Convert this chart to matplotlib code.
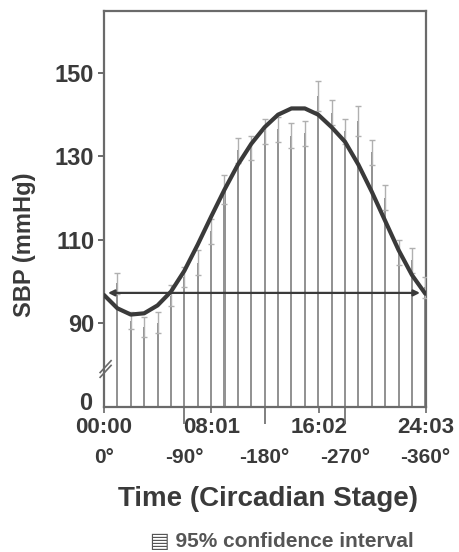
import matplotlib
matplotlib.use('Agg')
import matplotlib.pyplot as plt

# ---- data ----
hours = list(range(1, 25))
sbp = [99.5, 90.5, 89.0, 90.0, 96.5, 101.0, 104.5, 112.0, 122.0, 131.5, 132.0, 136.0,
       136.5, 135.0, 135.5, 144.5, 140.5, 136.0, 138.5, 131.0, 120.0, 107.0, 105.0, 98.5]
ci = [2.5, 2.0, 2.5, 2.5, 2.5, 2.5, 3.0, 3.0, 3.5, 3.0, 3.0, 3.0,
      3.0, 3.0, 3.0, 3.5, 3.0, 3.0, 3.5, 3.0, 3.0, 3.0, 3.0, 2.5]
fit_hours = list(range(0, 25))
fit_sbp = [96.7, 93.5, 92.0, 92.3, 94.2, 97.5, 102.5, 108.8, 115.5, 122.0, 128.0, 133.0,
           137.0, 140.0, 141.5, 141.5, 140.0, 137.0, 133.5, 128.0, 121.5, 114.5, 107.5,
           101.5, 97.0]
mesor = 97.2
y_ticks = [90, 110, 130, 150]
time_labels = ['00:00', '08:01', '16:02', '24:03']
time_pos = [0, 8.017, 16.033, 24.05]
stage_labels = ['0°', '-90°', '-180°', '-270°', '-360°']
stage_pos = [0, 6, 12, 18, 24]

FONT = ['Liberation Sans', 'DejaVu Sans']
plt.rcParams['font.family'] = FONT
INK = '#3a3a3a'

fig = plt.figure(figsize=(4.6, 5.52), dpi=100)
ax = fig.add_axes([104/460, 1-407/552, 322/460, 396/552])

ymin, ymax = 69.8, 164.9
ax.bar(hours, sbp, width=0.15, color='#939393', zorder=2)
ax.errorbar(hours, sbp, yerr=ci, fmt='none', ecolor='#b0b0b0', elinewidth=1.0,
            capsize=2.5, capthick=1.0, zorder=3)
ax.plot(fit_hours, fit_sbp, color=INK, lw=3, zorder=5, solid_capstyle='round')
ax.annotate('', xy=(0.3, mesor), xytext=(23.6, mesor),
            arrowprops=dict(arrowstyle='<|-|>', color=INK, lw=1.6,
                            mutation_scale=9, shrinkA=0, shrinkB=0), zorder=4)

ax.set_xlim(0, 24.05)
ax.set_ylim(ymin, ymax)

for s in ax.spines.values():
    s.set_color('#6a6a6a')
    s.set_linewidth(1.6)

ax.set_yticks(y_ticks, [str(v) for v in y_ticks])
ax.tick_params(axis='y', length=4, width=1.4, color='#6a6a6a', pad=3,
               labelsize=17, labelcolor=INK)
for t in ax.get_yticklabels():
    t.set_fontweight('bold')
# zero label of the broken axis, sitting just above the x tick labels
ax.text(-0.035, 0.01, '0', transform=ax.transAxes, ha='right', va='center',
        fontsize=17, fontweight='bold', color=INK)

ax.set_xticks(time_pos, time_labels)
ax.tick_params(axis='x', which='major', length=4, width=1.2, color='#6a6a6a',
               pad=3, labelsize=16, labelcolor=INK)
for t in ax.get_xticklabels():
    t.set_fontweight('bold')
ax.set_xticks([6, 12, 18], minor=True)
ax.tick_params(axis='x', which='minor', length=12, width=1.2, color='#6a6a6a')

for p, lab in zip(stage_pos, stage_labels):
    ax.text(p, -0.127, lab, transform=ax.get_xaxis_transform(), ha='center',
            va='center', fontsize=15, fontweight='bold', color=INK)

# axis break mark
for dy in (0.0, 0.012):
    ax.plot([-0.012, 0.022], [0.075 + dy, 0.105 + dy], transform=ax.transAxes,
            color='#6a6a6a', lw=1.2, clip_on=False)

ax.set_ylabel('SBP (mmHg)', fontsize=17, fontweight='bold', color=INK)
ax.yaxis.set_label_coords(-0.21, 0.41)

fig.text(268/460, 1-499/552, 'Time (Circadian Stage)', ha='center', va='center',
         fontsize=20, fontweight='bold', color=INK)
fig.text(282/460, 1-542/552, '▤ 95% confidence interval', ha='center', va='center',
         fontsize=15, fontweight='bold', color='#555555', family=FONT)

fig.savefig('out.png', dpi=100, facecolor='white')
